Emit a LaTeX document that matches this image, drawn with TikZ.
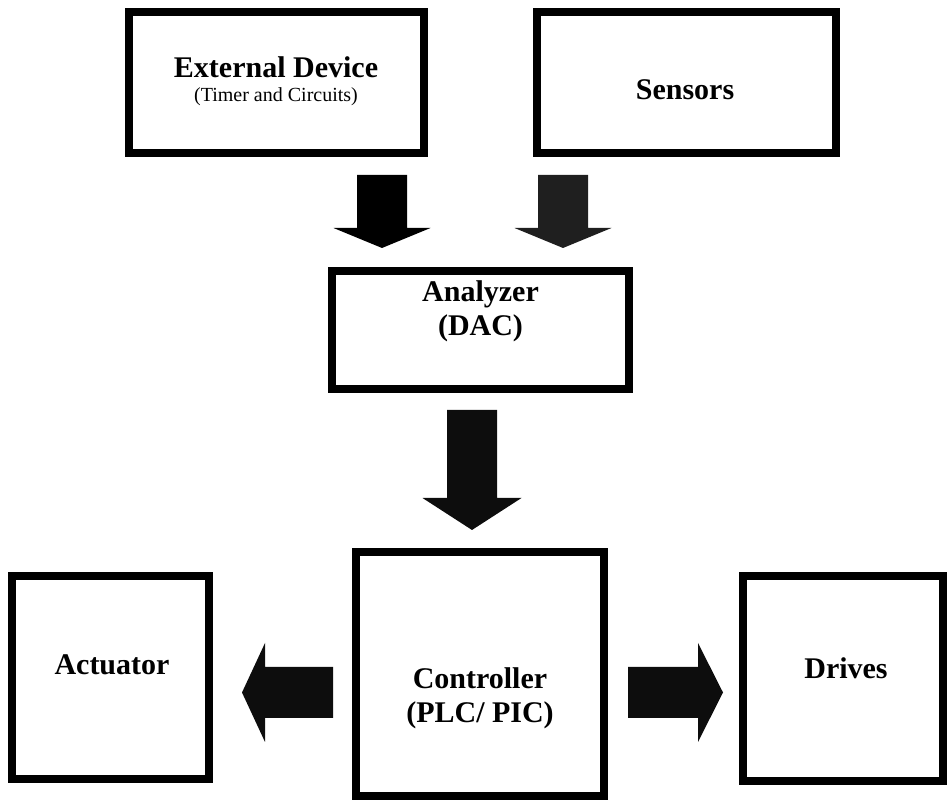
\documentclass[tikz,border=0pt]{standalone}
\usepackage{fontspec}
\setmainfont{Liberation Serif}
\usetikzlibrary{arrows.meta}
\tikzset{
  box/.style={draw=black, line width=8pt, fill=white, inner sep=0pt, outer sep=0pt},
  bigtxt/.style={font=\fontsize{30}{34}\selectfont\bfseries, align=center, inner sep=0pt},
  smalltxt/.style={font=\fontsize{20}{22}\selectfont, inner sep=0pt},
  fatarrow/.style={line cap=butt, draw=#1, fill=#1, line width=0pt},
}
\begin{document}
\begin{tikzpicture}[x=1pt,y=1pt]
\useasboundingbox (0,0) rectangle (948,802);
% boxes
\node[box, minimum width=295pt, minimum height=141pt] (ext) at (276.5,719.5) {};
\node[box, minimum width=299pt, minimum height=141pt] (sens) at (686.5,719.5) {};
\node[box, minimum width=297pt, minimum height=118pt] (ana) at (480.5,472) {};
\node[box, minimum width=248pt, minimum height=244pt] (ctrl) at (480,128) {};
\node[box, minimum width=197pt, minimum height=203pt] (act) at (110.5,124.5) {};
\node[box, minimum width=200pt, minimum height=205pt] (drv) at (843,123.5) {};
% texts
\node[bigtxt] (extT) at (276,735) {External Device};
\node[smalltxt] (extS) at (276,705) {(Timer and Circuits)};
\node[bigtxt] (sensT) at (685,712) {Sensors};
\node[bigtxt] (anaT) at (480.5,491) {Analyzer\\(DAC)};
\node[bigtxt] (ctrlT) at (480,104) {Controller\\(PLC/ PIC)};
\node[bigtxt] (actT) at (112,137) {Actuator};
\node[bigtxt] (drvT) at (846,134) {Drives};
% arrow anchor coordinates
\coordinate (a1s) at (382,627); \coordinate (a1e) at (382,554);
\coordinate (a2s) at (563,627); \coordinate (a2e) at (563,554);
\coordinate (a3s) at (472,392); \coordinate (a3e) at (472,272);
\coordinate (a4s) at (333,109.5); \coordinate (a4e) at (242,109.5);
\coordinate (a5s) at (628,109.5); \coordinate (a5e) at (723,109.5);
% arrows: shaft then head
\fill[black] ([xshift=-25pt]a1s) -- ([xshift=25pt]a1s) -- ([xshift=25pt,yshift=20pt]a1e) -- ([xshift=48.5pt,yshift=20pt]a1e) -- (a1e) -- ([xshift=-48.5pt,yshift=20pt]a1e) -- ([xshift=-25pt,yshift=20pt]a1e) -- cycle;
\fill[black!88] ([xshift=-25pt]a2s) -- ([xshift=25pt]a2s) -- ([xshift=25pt,yshift=20pt]a2e) -- ([xshift=48.5pt,yshift=20pt]a2e) -- (a2e) -- ([xshift=-48.5pt,yshift=20pt]a2e) -- ([xshift=-25pt,yshift=20pt]a2e) -- cycle;
\fill[black!95] ([xshift=-25pt]a3s) -- ([xshift=25pt]a3s) -- ([xshift=25pt,yshift=32pt]a3e) -- ([xshift=49.5pt,yshift=32pt]a3e) -- (a3e) -- ([xshift=-49.5pt,yshift=32pt]a3e) -- ([xshift=-25pt,yshift=32pt]a3e) -- cycle;
\fill[black!95] ([yshift=25.5pt]a4s) -- ([yshift=-25.5pt]a4s) -- ([xshift=23pt,yshift=-25.5pt]a4e) -- ([xshift=23pt,yshift=-49.5pt]a4e) -- (a4e) -- ([xshift=23pt,yshift=49.5pt]a4e) -- ([xshift=23pt,yshift=25.5pt]a4e) -- cycle;
\fill[black!95] ([yshift=25.5pt]a5s) -- ([yshift=-25.5pt]a5s) -- ([xshift=-25pt,yshift=-25.5pt]a5e) -- ([xshift=-25pt,yshift=-49.5pt]a5e) -- (a5e) -- ([xshift=-25pt,yshift=49.5pt]a5e) -- ([xshift=-25pt,yshift=25.5pt]a5e) -- cycle;
\end{tikzpicture}
\end{document}
